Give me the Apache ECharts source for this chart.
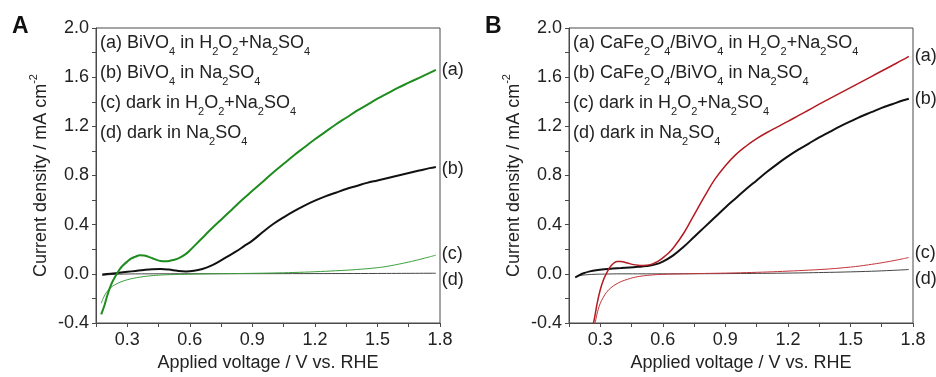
<!DOCTYPE html>
<html>
<head>
<meta charset="utf-8">
<script src="https://cdn.jsdelivr.net/npm/echarts@6/dist/echarts.min.js"></script>
<style>
html,body{margin:0;padding:0;background:#fff;}
#c{width:936px;height:377px;}
</style>
</head>
<body>
<div id="c"></div>
<script>
// ---------- axis ticks ----------
const xTickLabels = ['0.3', '0.6', '0.9', '1.2', '1.5', '1.8'];
const yTickLabels = ['-0.4', '0.0', '0.4', '0.8', '1.2', '1.6', '2.0'];

// ---------- Panel A ----------
// (a) BiVO4 in H2O2+Na2SO4 (light)
const vA_a = [0.175,0.19,0.20,0.215,0.23,0.25,0.265,0.28,0.30,0.32,0.34,0.36,0.38,0.40,0.42,0.44,0.46,0.48,0.50,0.52,0.55,0.58,0.60,0.65,0.70,0.75,0.80,0.85,0.90,0.95,1.00,1.05,1.10,1.15,1.20,1.25,1.30,1.35,1.40,1.45,1.50,1.55,1.60,1.65,1.70,1.75,1.78];
const jA_a = [-0.33,-0.26,-0.20,-0.12,-0.06,0.00,0.04,0.07,0.10,0.125,0.14,0.152,0.150,0.140,0.127,0.114,0.105,0.102,0.104,0.112,0.13,0.16,0.19,0.275,0.36,0.44,0.52,0.60,0.675,0.75,0.825,0.895,0.965,1.03,1.095,1.155,1.215,1.27,1.325,1.375,1.425,1.47,1.515,1.555,1.595,1.635,1.66];
// (b) BiVO4 in Na2SO4 (light)
const vA_b = [0.18,0.22,0.26,0.30,0.34,0.38,0.42,0.46,0.50,0.54,0.58,0.62,0.66,0.70,0.74,0.78,0.82,0.86,0.90,0.95,1.00,1.05,1.10,1.15,1.20,1.25,1.30,1.35,1.40,1.45,1.50,1.55,1.60,1.65,1.70,1.75,1.78];
const jA_b = [-0.005,0.0,0.008,0.016,0.024,0.032,0.038,0.040,0.035,0.025,0.020,0.025,0.040,0.065,0.10,0.14,0.18,0.225,0.27,0.34,0.405,0.46,0.51,0.555,0.595,0.63,0.66,0.69,0.715,0.74,0.76,0.78,0.80,0.82,0.84,0.86,0.87];
// (c) dark in H2O2+Na2SO4
const vA_c = [0.175,0.19,0.21,0.23,0.25,0.27,0.30,0.33,0.36,0.40,0.45,0.50,0.60,0.70,0.80,0.90,1.00,1.10,1.20,1.30,1.40,1.50,1.55,1.60,1.65,1.70,1.75,1.78];
const jA_c = [-0.24,-0.18,-0.13,-0.10,-0.08,-0.065,-0.048,-0.036,-0.027,-0.018,-0.011,-0.007,-0.003,0.0,0.002,0.004,0.007,0.011,0.017,0.025,0.035,0.05,0.062,0.078,0.096,0.116,0.138,0.152];
// (d) dark in Na2SO4
const vA_d = [0.18,0.22,0.28,0.40,0.80,1.20,1.50,1.78];
const jA_d = [-0.012,-0.006,-0.002,0.0,0.001,0.002,0.003,0.005];

// ---------- Panel B ----------
// (a) CaFe2O4/BiVO4 in H2O2+Na2SO4 (light)
const vB_a = [0.255,0.27,0.285,0.30,0.315,0.33,0.345,0.36,0.38,0.40,0.42,0.44,0.46,0.48,0.50,0.52,0.54,0.56,0.58,0.60,0.625,0.65,0.70,0.75,0.80,0.85,0.90,0.95,1.00,1.05,1.10,1.15,1.20,1.25,1.30,1.35,1.40,1.45,1.50,1.55,1.60,1.65,1.70,1.75,1.78];
const jB_a = [-0.48,-0.38,-0.24,-0.13,-0.05,0.005,0.05,0.08,0.10,0.10,0.092,0.083,0.075,0.07,0.068,0.07,0.075,0.088,0.105,0.13,0.165,0.21,0.33,0.48,0.63,0.77,0.88,0.97,1.04,1.10,1.15,1.195,1.24,1.287,1.333,1.38,1.425,1.47,1.515,1.56,1.605,1.65,1.695,1.74,1.77];
// (b) CaFe2O4/BiVO4 in Na2SO4 (light)
const vB_b = [0.18,0.20,0.22,0.25,0.28,0.32,0.36,0.40,0.44,0.48,0.52,0.56,0.60,0.65,0.70,0.75,0.80,0.85,0.90,0.95,1.00,1.05,1.10,1.15,1.20,1.25,1.30,1.35,1.40,1.45,1.50,1.55,1.60,1.65,1.70,1.75,1.78];
const jB_b = [-0.03,-0.01,0.005,0.02,0.03,0.038,0.043,0.047,0.052,0.057,0.063,0.075,0.10,0.15,0.22,0.30,0.38,0.46,0.54,0.615,0.69,0.76,0.83,0.895,0.955,1.01,1.06,1.11,1.155,1.20,1.24,1.28,1.315,1.35,1.38,1.41,1.425];
// (c) dark in H2O2+Na2SO4
const vB_c = [0.27,0.28,0.29,0.30,0.315,0.33,0.35,0.375,0.40,0.43,0.46,0.50,0.55,0.60,0.70,0.80,0.90,1.00,1.10,1.20,1.30,1.40,1.50,1.55,1.60,1.65,1.70,1.75,1.78];
const jB_c = [-0.45,-0.36,-0.29,-0.24,-0.19,-0.15,-0.115,-0.085,-0.063,-0.045,-0.03,-0.018,-0.009,-0.004,0.0,0.003,0.006,0.01,0.015,0.022,0.03,0.04,0.055,0.065,0.077,0.09,0.105,0.122,0.133];
// (d) dark in Na2SO4
const vB_d = [0.18,0.20,0.23,0.27,0.32,0.40,0.60,0.80,1.00,1.20,1.40,1.50,1.60,1.70,1.78];
const jB_d = [-0.025,-0.015,-0.008,-0.004,-0.002,0.0,0.0,0.001,0.003,0.006,0.012,0.016,0.021,0.028,0.035];

// ---------- texts ----------
const legendA = [
  '(a) BiVO{s|4} in H{s|2}O{s|2}+Na{s|2}SO{s|4}',
  '(b) BiVO{s|4} in Na{s|2}SO{s|4}',
  '(c) dark in H{s|2}O{s|2}+Na{s|2}SO{s|4}',
  '(d) dark in Na{s|2}SO{s|4}'
];
const legendB = [
  '(a) CaFe{s|2}O{s|4}/BiVO{s|4} in H{s|2}O{s|2}+Na{s|2}SO{s|4}',
  '(b) CaFe{s|2}O{s|4}/BiVO{s|4} in Na{s|2}SO{s|4}',
  '(c) dark in H{s|2}O{s|2}+Na{s|2}SO{s|4}',
  '(d) dark in Na{s|2}SO{s|4}'
];
const curveTags = ['(a)', '(b)', '(c)', '(d)'];
const xName = 'Applied voltage / V vs. RHE';
const yName = 'Current density / mA cm{sup|-2}';

const FONT = '"Liberation Sans", Arial, Helvetica, sans-serif';
const AXIS_COLOR = '#4a4a4a';

function pairs(xs, ys) { return xs.map((x, i) => [x, ys[i]]); }
function isTick(v, list) { return list.some(t => Math.abs(parseFloat(t) - v) < 1e-6); }

function makeX(gi) {
  return {
    type: 'value', gridIndex: gi, min: 0.15, max: 1.8, interval: 0.15,
    name: xName, nameLocation: 'middle', nameGap: 31,
    nameTextStyle: { fontFamily: FONT, fontSize: 18, color: '#222' },
    axisLine: { show: true, onZero: false, lineStyle: { color: AXIS_COLOR, width: 1 } },
    axisTick: { show: true, inside: false, length: 4, lineStyle: { color: AXIS_COLOR } },
    axisLabel: {
      margin: 8, fontFamily: FONT, fontSize: 18, color: '#222',
      showMinLabel: true, showMaxLabel: true,
      formatter: v => (isTick(v, xTickLabels) ? v.toFixed(1) : '')
    },
    splitLine: { show: false }
  };
}
function makeY(gi) {
  return {
    type: 'value', gridIndex: gi, min: -0.4, max: 2.0, interval: 0.2,
    name: yName, nameLocation: 'middle', nameGap: 29,
    nameTextStyle: {
      fontFamily: FONT, fontSize: 18, color: '#222', lineHeight: 26,
      rich: { sup: { fontFamily: FONT, fontSize: 11, lineHeight: 11, verticalAlign: 'top', color: '#222' } }
    },
    axisLine: { show: true, onZero: false, lineStyle: { color: AXIS_COLOR, width: 1 } },
    axisTick: { show: true, inside: false, length: 4, lineStyle: { color: AXIS_COLOR } },
    axisLabel: {
      margin: 7, fontFamily: FONT, fontSize: 18, color: '#222',
      showMinLabel: true, showMaxLabel: true,
      formatter: v => (isTick(v, yTickLabels) ? v.toFixed(1) : '')
    },
    splitLine: { show: false }
  };
}

function makeSeries(gi, xs, ys, color, width, tag, dy, z) {
  return {
    type: 'line', xAxisIndex: gi, yAxisIndex: gi,
    data: pairs(xs, ys), showSymbol: false, symbol: 'none', smooth: 0.4,
    clip: true, z: z,
    lineStyle: { color: color, width: width },
    endLabel: {
      show: true, formatter: tag, color: '#222', fontFamily: FONT, fontSize: 18,
      distance: 6, offset: [0, dy]
    },
    emphasis: { disabled: true }, silent: true
  };
}

const GREEN = '#1e8c1e', GREEN_THIN = '#3a9f3a', RED = '#b31b22', RED_THIN = '#c0343a', BLACK = '#111', GREY = '#444';

function legendGraphics(lines, left) {
  return lines.map((t, i) => ({
    type: 'text', left: left, top: 29 + i * 30, silent: true,
    style: {
      text: t, fontFamily: FONT, fontSize: 18, fill: '#222', lineHeight: 28,
      rich: { s: { fontFamily: FONT, fontSize: 11, lineHeight: 10, verticalAlign: 'bottom', fill: '#222' } }
    }
  }));
}

const option = {
  animation: false,
  backgroundColor: '#fff',
  grid: [
    { left: 96, top: 28, width: 344, height: 299, show: true, borderColor: AXIS_COLOR, borderWidth: 1, containLabel: false },
    { left: 569, top: 28, width: 344, height: 299, show: true, borderColor: AXIS_COLOR, borderWidth: 1, containLabel: false }
  ],
  xAxis: [makeX(0), makeX(1)],
  yAxis: [makeY(0), makeY(1)],
  graphic: [
    { type: 'text', left: 12, top: 15, style: { text: 'A', fontFamily: FONT, fontSize: 23, fontWeight: 'bold', fill: '#111' } },
    { type: 'text', left: 485, top: 15, style: { text: 'B', fontFamily: FONT, fontSize: 23, fontWeight: 'bold', fill: '#111' } }
  ].concat(legendGraphics(legendA, 100), legendGraphics(legendB, 573)),
  series: [
    makeSeries(0, vA_d, jA_d, GREY, 1, curveTags[3], 7, 1),
    makeSeries(0, vA_c, jA_c, GREEN_THIN, 1, curveTags[2], -1, 2),
    makeSeries(0, vA_b, jA_b, BLACK, 2, curveTags[1], 2, 3),
    makeSeries(0, vA_a, jA_a, GREEN, 2, curveTags[0], 0, 4),
    makeSeries(1, vB_d, jB_d, GREY, 1, curveTags[3], 9, 1),
    makeSeries(1, vB_c, jB_c, RED_THIN, 1, curveTags[2], -4, 2),
    makeSeries(1, vB_b, jB_b, BLACK, 2, curveTags[1], 0, 3),
    makeSeries(1, vB_a, jB_a, RED, 1.5, curveTags[0], 0, 4)
  ]
};

const chart = echarts.init(document.getElementById('c'), null, { renderer: 'canvas' });
chart.setOption(option);
</script>
</body>
</html>
